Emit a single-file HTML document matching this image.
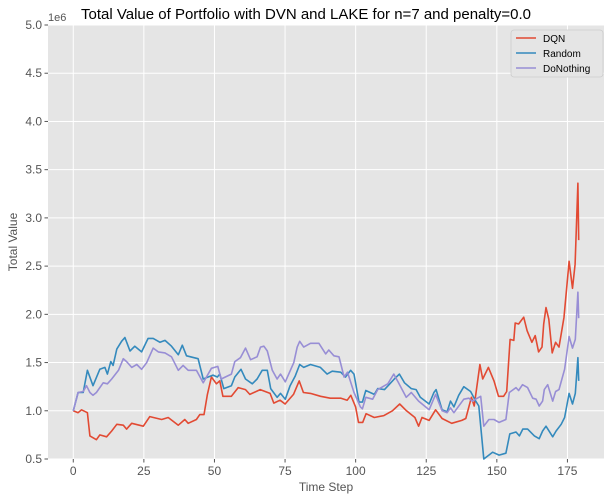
<!DOCTYPE html>
<html><head><meta charset="utf-8"><style>
body{margin:0;background:#fff;}
svg{display:block;font-family:"Liberation Sans","DejaVu Sans",sans-serif;}
</style></head><body>
<svg id="chart" width="612" height="500" viewBox="0 0 612 500">
<rect x="0" y="0" width="612" height="500" fill="#fff"/>
<rect x="48" y="25" width="556" height="434" fill="#e5e5e5"/>
<g id="grid"></g>
<g id="ticks"></g>
<g id="series"></g>
<text x="306" y="19" text-anchor="middle" font-size="15" fill="#000">Total Value of Portfolio with DVN and LAKE for n=7 and penalty=0.0</text>
<text x="48" y="21" font-size="11" fill="#555">1e6</text>
<text x="326" y="491" text-anchor="middle" font-size="12" fill="#555">Time Step</text>
<text x="17" y="242" text-anchor="middle" font-size="12" fill="#555" transform="rotate(-90 17 242)">Total Value</text>
<g>
<rect x="511" y="30" width="92" height="47" rx="3" fill="#e5e5e5" stroke="#ccc" stroke-width="0.8"/>
<line x1="516" y1="38" x2="536" y2="38" stroke="#E24A33" stroke-width="1.6"/>
<text x="543" y="42" font-size="10" fill="#000">DQN</text>
<line x1="516" y1="53" x2="536" y2="53" stroke="#348ABD" stroke-width="1.6"/>
<text x="543" y="57" font-size="10" fill="#000">Random</text>
<line x1="516" y1="68" x2="536" y2="68" stroke="#988ED5" stroke-width="1.6"/>
<text x="543" y="72" font-size="10" fill="#000">DoNothing</text>
</g>
</svg>
<script>
const xTicks=[0,25,50,75,100,125,150,175];
const yTicks=[0.5,1.0,1.5,2.0,2.5,3.0,3.5,4.0,4.5,5.0];
const yTickLabels=["0.5","1.0","1.5","2.0","2.5","3.0","3.5","4.0","4.5","5.0"];
const dqnSteps=[0,1.7,2.9,5,5.9,8.2,9.4,11.8,13.6,15.4,17.7,18.9,20.7,24.8,27.1,31.3,33.6,37.2,39.5,40.7,43.6,44.8,46.3,47.5,48.9,50.7,51.9,53,56,58.4,61,62.5,66.2,69.7,71,73.2,75,78,80,81.5,84,87.6,91,94.8,97,98.3,100,101,102.5,103.7,106.6,110,113,115.6,118,121,122.3,123.5,126,128.3,130.6,134,137.6,139,141,142,144,145,147,149,150.6,152.4,153.5,154.7,156,156.5,157.7,159.5,160.7,162.4,163.6,164.8,166,166.6,167.4,168.4,169.6,170.8,172,173.8,175.6,176.8,177.7,178.7,179];
const dqnValues=[1.0,0.98,1.01,0.98,0.74,0.70,0.75,0.73,0.79,0.86,0.85,0.81,0.87,0.84,0.94,0.91,0.93,0.85,0.91,0.87,0.91,0.96,0.96,1.17,1.35,1.28,1.31,1.15,1.15,1.24,1.22,1.17,1.22,1.18,1.08,1.11,1.07,1.17,1.31,1.19,1.18,1.15,1.13,1.13,1.11,1.16,1.04,0.88,0.88,0.97,0.93,0.95,1.0,1.07,1.0,0.93,0.84,0.93,0.90,1.01,0.92,0.87,0.90,0.92,1.14,1.05,1.48,1.33,1.45,1.31,1.15,1.15,1.2,1.74,1.73,1.91,1.9,1.97,1.83,1.71,1.78,1.61,1.66,1.9,2.07,1.95,1.6,1.71,1.66,1.97,2.55,2.27,2.52,3.36,2.77];
const randomSteps=[0,1.7,3.5,5,7,9.4,11.2,12.1,13.3,14.1,15.4,17.1,18.3,20.1,21.8,24.2,26.5,28.3,30.7,32.5,34.8,37.2,38.6,40.1,44.2,46,47.8,49.5,51,51.9,53.3,56,57.2,59.4,61,63.4,65.1,66.9,68.7,69.9,72.2,73.4,75.1,76.8,78.6,80.2,81.6,84,87.5,89.9,91.7,94.7,96.4,98.2,99.4,101.2,102.4,103.6,106.6,107.8,110.2,113.7,115.5,117.3,119.7,121.4,122.9,126,127.7,128.5,130.6,132.4,133.6,134.8,136.5,138.3,140.7,142.5,143.6,145.4,148.5,150.8,153.2,154.6,156.8,158,159.2,160.9,163.3,165,166.2,167.4,169.8,171,172.8,174,175.6,176.8,177.8,178.7,179];
const randomValues=[1.0,1.19,1.19,1.42,1.26,1.43,1.45,1.38,1.51,1.47,1.64,1.72,1.76,1.62,1.67,1.61,1.75,1.75,1.71,1.73,1.67,1.58,1.68,1.57,1.54,1.33,1.35,1.37,1.35,1.38,1.23,1.26,1.35,1.43,1.33,1.28,1.33,1.42,1.42,1.23,1.14,1.18,1.12,1.26,1.36,1.48,1.45,1.48,1.45,1.38,1.41,1.40,1.35,1.42,1.38,1.09,1.09,1.21,1.17,1.23,1.22,1.33,1.38,1.29,1.23,1.22,1.14,1.07,1.19,1.22,1.01,0.99,1.1,1.04,1.16,1.25,1.2,1.1,1.05,0.48,0.57,0.54,0.56,0.76,0.78,0.74,0.81,0.81,0.74,0.71,0.79,0.84,0.73,0.79,0.86,0.93,1.18,1.07,1.18,1.55,1.31];
const nothingSteps=[0,1.7,3.5,4.7,5.9,7,8.2,10.6,12.1,13.6,16,17.7,18.9,20.7,22.5,24.2,26,28.3,30.1,32.5,34.8,37.2,38.9,40.7,43.6,46,48.9,51.2,52.4,56,57.2,59.2,61,62.8,65.1,66.3,67.5,68.7,70.5,72.2,73.4,75.1,78.1,79.3,80.2,81.6,84,87,89.4,90.5,92.3,94.1,95.9,97.1,99.4,101.7,102.4,103.6,106,107.8,111.4,113.5,115,117.9,119.7,122.3,126,128.3,130.6,132.4,133.6,134.8,138.3,140.1,141.3,143.1,144.3,145.4,147.2,149,150.8,153.2,154.4,156.8,157.7,159.1,160.9,162.7,163.9,165,166.2,166.8,168,169.8,170.8,172,174,175.6,176.8,177.8,178.7,179];
const nothingValues=[1.0,1.19,1.2,1.26,1.19,1.16,1.19,1.29,1.28,1.33,1.42,1.54,1.51,1.45,1.48,1.43,1.50,1.65,1.61,1.60,1.56,1.42,1.47,1.42,1.42,1.29,1.44,1.46,1.33,1.38,1.51,1.55,1.65,1.53,1.56,1.66,1.67,1.62,1.42,1.33,1.38,1.30,1.50,1.66,1.72,1.66,1.70,1.70,1.59,1.63,1.57,1.56,1.35,1.40,1.19,1.04,1.02,1.14,1.12,1.22,1.28,1.38,1.3,1.14,1.19,1.10,1.01,1.17,1.0,0.98,1.03,0.98,1.12,1.13,1.1,1.13,1.15,0.84,0.91,0.91,0.88,0.91,1.19,1.24,1.21,1.27,1.24,1.13,1.12,1.05,1.1,1.22,1.27,1.1,1.2,1.22,1.43,1.77,1.65,1.74,2.23,1.96];

const NS="http://www.w3.org/2000/svg";
const L=48,R=604,T=25,B=459,xMin=-8.95,xMax=187.95,yMin=0.5,yMax=5.0;
function xs(v){return L+(v-xMin)/(xMax-xMin)*(R-L);}
function ys(v){return B-(v-yMin)/(yMax-yMin)*(B-T);}
const grid=document.getElementById('grid'),ticks=document.getElementById('ticks'),series=document.getElementById('series');
function mk(tag,attrs,parent){const e=document.createElementNS(NS,tag);for(const k in attrs)e.setAttribute(k,attrs[k]);parent.appendChild(e);return e;}
xTicks.forEach(function(t){
  const g=mk('line',{x1:xs(t),x2:xs(t),y1:T,y2:B,stroke:'#fff','stroke-width':1},grid);
  
  
  const tk=mk('line',{x1:xs(t),x2:xs(t),y1:B,y2:B+3.5,stroke:'#555','stroke-width':1},ticks);
  
  
  const tx=mk('text',{x:xs(t),y:B+16,'text-anchor':'middle','font-size':12,fill:'#555'},ticks);
  tx.textContent=String(t);
  
  
});
yTicks.forEach(function(v,i){
  const g=mk('line',{x1:L,x2:R,y1:ys(v),y2:ys(v),stroke:'#fff','stroke-width':1},grid);
  
  
  const tk=mk('line',{x1:L-3.5,x2:L,y1:ys(v),y2:ys(v),stroke:'#555','stroke-width':1},ticks);
  
  
  const tx=mk('text',{x:L-6,y:ys(v)+4,'text-anchor':'end','font-size':12,fill:'#555'},ticks);
  tx.textContent=yTickLabels[i];
  
  
});
function line(steps,vals,color,name){
  const d=steps.map(function(s,i){const y=Math.min(B,Math.max(T,ys(vals[i])));return (i?'L':'M')+xs(s).toFixed(1)+','+y.toFixed(1);}).join('');
  const p=mk('path',{d:d,fill:'none',stroke:color,'stroke-width':1.6,'stroke-linejoin':'round'},series);
  
  
}
line(dqnSteps,dqnValues,'#E24A33','dqn-line');
line(randomSteps,randomValues,'#348ABD','random-line');
line(nothingSteps,nothingValues,'#988ED5','donothing-line');
</script>
</body></html>
